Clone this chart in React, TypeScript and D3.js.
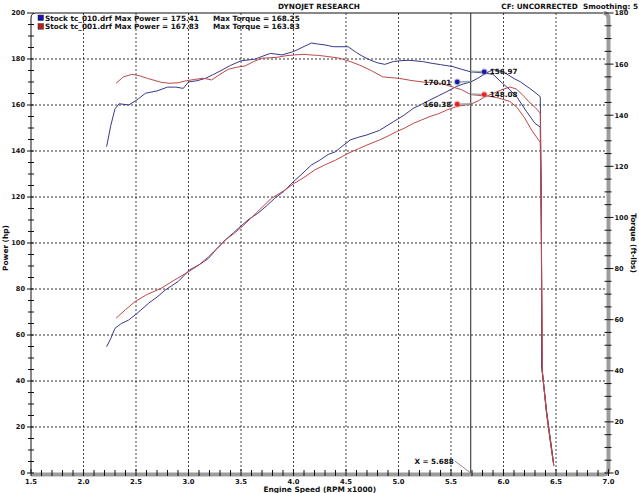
import React, { useEffect, useRef } from 'react';
import * as d3 from 'd3';

// run names and summary values shown in the legend
const runNames = ['Stock tc_010.drf', 'Stock tc_001.drf'];
const maxPower = [175.41, 167.83];
const maxTorque = [168.25, 163.83];
const runColors = ['#38388e', '#bd4848'];
const swatchColors = ['#1414b4', '#b42020'];

// blue run (tc_010)
const bluePowerRpm = [2.22, 2.26, 2.3, 2.36, 2.43, 2.51, 2.62, 2.7, 2.78, 2.9, 3.01, 3.1, 3.19, 3.27, 3.35, 3.43, 3.51, 3.58, 3.66, 3.74, 3.82, 3.91, 4.0, 4.08, 4.17, 4.25, 4.33, 4.4, 4.44, 4.54, 4.62, 4.7, 4.82, 4.95, 5.05, 5.14, 5.22, 5.3, 5.38, 5.46, 5.55, 5.62, 5.688, 5.75, 5.82, 5.9, 5.97, 6.03, 6.1, 6.16, 6.25, 6.3, 6.35, 6.36, 6.365, 6.41, 6.46, 6.475];
const bluePower = [54.9, 58.5, 62.9, 65, 66.5, 69.4, 73.8, 76.5, 79.6, 83.2, 88.3, 90.5, 93.3, 97.5, 101.3, 104.5, 107.8, 110.5, 112.9, 116, 119.4, 122.5, 126.7, 130, 133.9, 136, 138.5, 139.7, 141.2, 144.8, 146, 147, 149, 152.7, 155.5, 158.5, 160.3, 162.2, 164, 165.8, 168, 169.2, 170.01, 171.5, 173.5, 175.41, 174.8, 173.5, 171.5, 170.1, 167.2, 165.5, 163.6, 120, 46, 27, 10, 5];
const blueTorqueRpm = [2.22, 2.26, 2.3, 2.34, 2.43, 2.51, 2.59, 2.7, 2.8, 2.88, 2.95, 3.0, 3.08, 3.16, 3.24, 3.32, 3.4, 3.5, 3.63, 3.7, 3.78, 3.89, 4.0, 4.08, 4.17, 4.24, 4.3, 4.38, 4.52, 4.6, 4.66, 4.73, 4.8, 4.87, 4.95, 5.01, 5.1, 5.23, 5.32, 5.4, 5.52, 5.6, 5.688, 5.8, 5.9, 5.99, 6.06, 6.13, 6.22, 6.3, 6.35, 6.36, 6.365, 6.41, 6.46, 6.475];
const blueTorque = [127.7, 136, 142.5, 144.5, 144, 146, 148.6, 149.5, 151, 151, 150.5, 153, 153.5, 154.4, 156, 157.7, 159.5, 161.3, 161.9, 163, 164.2, 163.6, 164.9, 166.5, 168.25, 167.8, 167.5, 166.8, 166.8, 164.5, 163, 161.6, 160.5, 159.9, 161, 161.3, 161.5, 161, 160.3, 159.8, 159, 158, 156.97, 156.6, 156, 152.5, 150, 147, 141.4, 136.8, 135.4, 100, 41, 24, 9, 4];

// red run (tc_001)
const redPowerRpm = [2.31, 2.4, 2.49, 2.6, 2.74, 2.87, 3.0, 3.1, 3.19, 3.27, 3.35, 3.43, 3.51, 3.6, 3.7, 3.79, 3.9, 4.01, 4.1, 4.2, 4.3, 4.4, 4.52, 4.62, 4.7, 4.82, 4.9, 4.98, 5.06, 5.14, 5.22, 5.3, 5.38, 5.46, 5.55, 5.62, 5.688, 5.76, 5.82, 5.9, 5.98, 6.06, 6.12, 6.18, 6.24, 6.3, 6.35, 6.36, 6.37, 6.41, 6.46, 6.48];
const redPower = [67.3, 71, 74.5, 77.5, 80.3, 84, 87.5, 90.5, 94, 97.5, 101.3, 104, 107.1, 111, 115.5, 119.4, 122.5, 126, 128.5, 131.7, 134, 136, 139, 141, 142.6, 144.8, 146.5, 148.4, 150, 152, 153.5, 155, 156.2, 157.8, 159.3, 159.9, 160.38, 161.8, 163.5, 165, 166.6, 167.83, 167, 164.5, 161.5, 159, 156.5, 110, 44, 26, 9, 3];
const redTorqueRpm = [2.31, 2.38, 2.46, 2.53, 2.61, 2.74, 2.82, 2.9, 2.98, 3.06, 3.14, 3.22, 3.3, 3.38, 3.46, 3.54, 3.62, 3.7, 3.78, 3.85, 3.93, 4.01, 4.1, 4.16, 4.24, 4.32, 4.44, 4.54, 4.63, 4.74, 4.85, 4.93, 5.01, 5.12, 5.23, 5.32, 5.4, 5.52, 5.6, 5.688, 5.75, 5.85, 5.95, 6.06, 6.13, 6.2, 6.27, 6.35, 6.36, 6.37, 6.41, 6.46, 6.48];
const redTorque = [152.5, 155, 156, 155.5, 154.4, 152.9, 152.5, 152.7, 153.5, 154, 154.5, 153.8, 156, 158, 158.8, 159.3, 161, 162.3, 162.5, 162.7, 163.3, 163.6, 163.83, 163.6, 163.4, 163, 162.3, 161, 159.6, 157.5, 155, 154.7, 154.4, 153.6, 153, 152.8, 152.5, 151, 150, 148.08, 147.8, 147.5, 146.8, 145.4, 143, 139, 134, 129.4, 95, 40, 23, 8, 3];

// cursor readout
const cursorRpm = 5.688;
const cursorPower = [170.01, 160.38];
const cursorTorque = [156.97, 148.08];

const xTicks = d3.range(1.5, 7.01, 0.5);
const hpTicks = d3.range(0, 201, 20);
const tqTicks = d3.range(0, 181, 20);

const W = 639;
const H = 493;
const left = 31;
const right = 608.5;
const top = 13;
const bottom = 473;
const font = 'DejaVu Sans, Verdana, sans-serif';

const App = () => {
  const ref = useRef(null);

  useEffect(() => {
    const svg = d3.select(ref.current);
    svg.selectAll('*').remove();

    const x = d3.scaleLinear().domain([1.5, 7]).range([left, right]);
    const yHp = d3.scaleLinear().domain([0, 200]).range([bottom, top]);
    const yTq = d3.scaleLinear().domain([0, 180]).range([bottom, top]);

    svg.append('rect').attr('width', W).attr('height', H).attr('fill', '#fff');

    // grid
    svg.append('g').selectAll('line')
      .data(xTicks.slice(1, -1))
      .enter().append('line')
      .attr('x1', d => x(d)).attr('x2', d => x(d))
      .attr('y1', top).attr('y2', bottom)
      .attr('stroke', '#444').attr('stroke-dasharray', '2,2');
    svg.append('g').selectAll('line')
      .data(hpTicks.slice(1, -1))
      .enter().append('line')
      .attr('x1', left).attr('x2', right)
      .attr('y1', d => yHp(d)).attr('y2', d => yHp(d))
      .attr('stroke', '#333').attr('stroke-dasharray', '2,2');

    // frame: black top/left, grey bars right/bottom
    svg.append('path')
      .attr('d', `M${left},${bottom} V${top + 5} Q${left},${top} ${left + 5},${top} H${right - 5}`)
      .attr('fill', 'none').attr('stroke', '#111').attr('stroke-width', 1);
    svg.append('path')
      .attr('d', `M${right - 5},${top} Q${right},${top} ${right},${top + 6} V${bottom - 4} Q${right},${bottom + 1.5} ${right - 5},${bottom + 1.5} H${left}`)
      .attr('fill', 'none').attr('stroke', '#9c9c9c').attr('stroke-width', 4);

    // ticks
    const tickG = svg.append('g').attr('stroke', '#111').attr('stroke-width', 1);
    tickG.selectAll('.lt').data(d3.range(0, 201, 5)).enter().append('line')
      .attr('x1', d => (d % 20 === 0 ? left - 4 : left - 3)).attr('x2', left + 3)
      .attr('y1', d => yHp(d)).attr('y2', d => yHp(d));
    tickG.selectAll('.rt').data(d3.range(0, 181, 5)).enter().append('line')
      .attr('x1', right - 4).attr('x2', d => (d % 20 === 0 ? right + 5 : right + 3))
      .attr('y1', d => yTq(d)).attr('y2', d => yTq(d));
    tickG.selectAll('.bt').data(d3.range(15, 71, 1)).enter().append('line')
      .attr('x1', d => x(d / 10)).attr('x2', d => x(d / 10))
      .attr('y1', d => (d % 5 === 0 ? bottom - 4 : bottom - 3)).attr('y2', bottom + 3);

    const txt = (sel) => sel.attr('font-family', font).attr('font-weight', 'bold').attr('fill', '#111');

    // tick labels
    svg.append('g').selectAll('text').data(hpTicks).enter().append('text')
      .call(txt).attr('font-size', 6.6)
      .attr('x', left - 6).attr('y', d => yHp(d) + 2.4)
      .attr('text-anchor', 'end').text(d => d);
    svg.append('g').selectAll('text').data(tqTicks).enter().append('text')
      .call(txt).attr('font-size', 6.6)
      .attr('x', right + 6).attr('y', d => yTq(d) + 2.4)
      .text(d => d);
    svg.append('g').selectAll('text').data(xTicks).enter().append('text')
      .call(txt).attr('font-size', 6.8)
      .attr('x', d => x(d)).attr('y', bottom + 11)
      .attr('text-anchor', 'middle').text(d => d.toFixed(1));

    // axis titles & header
    svg.append('text').call(txt).attr('font-size', 7.4)
      .attr('x', (left + right) / 2).attr('y', H - 1.5)
      .attr('text-anchor', 'middle').text('Engine Speed (RPM x1000)');
    svg.append('text').call(txt).attr('font-size', 7.4)
      .attr('transform', `translate(8,${(top + bottom) / 2 + 5}) rotate(-90)`)
      .attr('text-anchor', 'middle').text('Power (hp)');
    svg.append('text').call(txt).attr('font-size', 7.4)
      .attr('transform', `translate(631,${(top + bottom) / 2}) rotate(90)`)
      .attr('text-anchor', 'middle').text('Torque (ft-lbs)');
    svg.append('text').call(txt).attr('font-size', 7.3)
      .attr('x', 319).attr('y', 9).attr('text-anchor', 'middle').text('DYNOJET RESEARCH');
    svg.append('text').call(txt).attr('font-size', 7.3)
      .attr('x', 638).attr('y', 8.5).attr('text-anchor', 'end')
      .style('white-space', 'pre').text('CF: UNCORRECTED  Smoothing: 5');

    // legend
    const leg = svg.append('g');
    runNames.forEach((name, i) => {
      const yy = 20.5 + i * 8.7;
      leg.append('rect').attr('x', 38).attr('y', yy - 5.5).attr('width', 5.5).attr('height', 5.5)
        .attr('fill', swatchColors[i]).attr('stroke', '#222').attr('stroke-width', 0.5);
      leg.append('text').call(txt).attr('font-size', 7.3)
        .attr('x', 45).attr('y', yy).text(`${name} Max Power = ${maxPower[i].toFixed(2)}`);
      leg.append('text').call(txt).attr('font-size', 7.3)
        .attr('x', 213).attr('y', yy).text(`Max Torque = ${maxTorque[i].toFixed(2)}`);
    });

    // curves
    const series = [
      { rpm: bluePowerRpm, v: bluePower, y: yHp, c: runColors[0] },
      { rpm: blueTorqueRpm, v: blueTorque, y: yTq, c: runColors[0] },
      { rpm: redPowerRpm, v: redPower, y: yHp, c: runColors[1] },
      { rpm: redTorqueRpm, v: redTorque, y: yTq, c: runColors[1] },
    ];
    series.forEach(s => {
      const line = d3.line<number>()
        .x((d, i) => x(s.rpm[i]))
        .y(d => s.y(d));
      svg.append('path').datum(s.v)
        .attr('d', line)
        .attr('fill', 'none').attr('stroke', s.c).attr('stroke-width', 1);
    });

    // cursor
    const cx = x(cursorRpm);
    svg.append('line').attr('x1', cx).attr('x2', cx).attr('y1', top).attr('y2', bottom)
      .attr('stroke', '#222').attr('stroke-width', 1);
    svg.append('text').call(txt).attr('font-size', 7.2)
      .attr('x', cx - 17).attr('y', bottom - 9).attr('text-anchor', 'end').text(`X = ${cursorRpm.toFixed(3)}`);
    svg.append('line').attr('x1', cx - 16).attr('y1', bottom - 12).attr('x2', cx).attr('y2', bottom)
      .attr('stroke', '#8a6a70').attr('stroke-width', 0.8);

    // readout markers
    const dotColors = ['#1a1a9a', '#e02424'];
    const haloColors = ['#8f8fd0', '#f39a9a'];
    const marks = [
      ...cursorPower.map((v, i) => ({ v, y: yHp(v), side: -1, i })),
      ...cursorTorque.map((v, i) => ({ v, y: yTq(v), side: 1, i })),
    ];
    marks.forEach(m => {
      const mx = cx + m.side * 13.5;
      svg.append('line').attr('x1', mx).attr('y1', m.y).attr('x2', cx).attr('y2', m.y - 0.5)
        .attr('stroke', '#9aaaa8').attr('stroke-width', 1.5);
      svg.append('circle').attr('cx', mx).attr('cy', m.y).attr('r', 3.6)
        .attr('fill', haloColors[m.i]).attr('opacity', 0.5);
      svg.append('circle').attr('cx', mx).attr('cy', m.y).attr('r', 2.4)
        .attr('fill', dotColors[m.i]);
      svg.append('text').call(txt).attr('font-size', 7.2)
        .attr('x', m.side < 0 ? mx - 6 : mx + 5.5).attr('y', m.y + 2.6)
        .attr('text-anchor', m.side < 0 ? 'end' : 'start').text(m.v.toFixed(2));
    });
  }, []);

  return (
    <svg ref={ref} width={W} height={H}
      style={{ position: 'absolute', left: 0, top: 0, display: 'block' }} />
  );
};

export default App;
